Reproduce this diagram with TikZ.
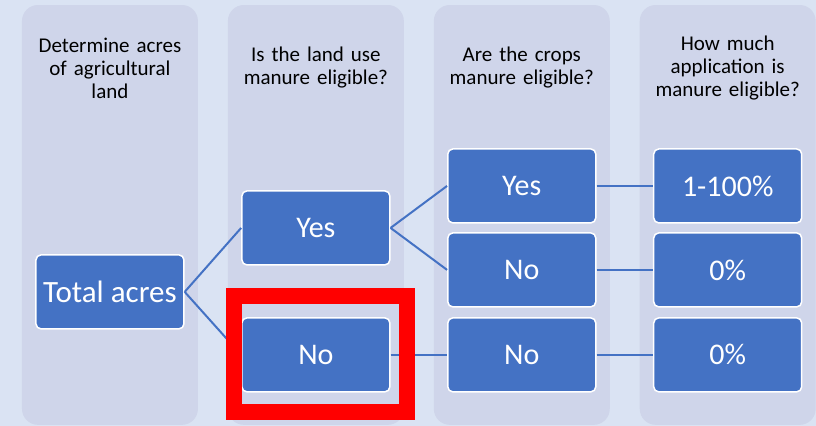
\documentclass[tikz,border=0pt]{standalone}
\usepackage{fontspec}
\setmainfont{Carlito}
\usepackage{tikz}
\usetikzlibrary{positioning}
\definecolor{pagebg}{RGB}{218,227,243}
\definecolor{colfill}{RGB}{207,213,234}
\definecolor{boxblue}{RGB}{68,114,196}

\begin{document}
\begin{tikzpicture}[
      x=1pt, y=-1pt,
      colbox/.style={rectangle, fill=colfill, rounded corners=16pt,
                     minimum width=176pt, minimum height=420pt, inner sep=0pt},
      headtext/.style={align=center, text width=170pt,
                       font=\fontsize{21}{23}\selectfont},
      choice/.style={rectangle, draw=white, line width=1.5pt, fill=boxblue,
                     rounded corners=5pt, minimum width=148pt,
                     minimum height=74pt, inner sep=2pt, text=white,
                     font=\fontsize{30}{34}\selectfont},
      link/.style={draw=boxblue, line width=2pt}
    ]
      %% Background
      \fill[pagebg] (0,0) rectangle (816,426);
      %% Column panels
      \foreach \i/\xc in {1/110, 2/316, 3/522, 4/728}{
        \node[colbox] (col\i) at (\xc, 215) {};
      }
      %% Column headings
      \node[headtext] (head1) at (110, 68) {Determine acres\\of agricultural\\land};
      \node[headtext] (head2) at (316, 68) {Is the land use\\manure eligible?};
      \node[headtext] (head3) at (522, 68) {Are the crops\\manure eligible?};
      \node[headtext] (head4) at (728, 68) {How much\\application is\\manure eligible?};
      %% Decision boxes
      \node[choice, font=\fontsize{31}{34}\selectfont] (total) at (110, 292) {Total acres};
      \node[choice] (landyes)  at (316, 228) {Yes};
      \node[choice] (landno)   at (316, 355) {No};
      \node[choice] (cropyes)  at (522, 186) {Yes};
      \node[choice] (cropno)   at (522, 270) {No};
      \node[choice] (cropno2)  at (522, 355) {No};
      \node[choice] (share1)   at (728, 186) {1-100\%};
      \node[choice] (share2)   at (728, 270) {0\%};
      \node[choice] (share3)   at (728, 355) {0\%};
      %% Connectors
      \draw[link] (total.east) -- (landyes.west);
      \draw[link] (total.east) -- (landno.west);
      \draw[link] (landyes.east) -- (cropyes.west);
      \draw[link] (landyes.east) -- (cropno.west);
      \draw[link] (landno.east) -- (cropno2.west);
      \draw[link] (cropyes.east) -- (share1.west);
      \draw[link] (cropno.east) -- (share2.west);
      \draw[link] (cropno2.east) -- (share3.west);
      %% Red highlight
      \node[rectangle, draw=red, line width=16pt, minimum width=173pt,
            minimum height=115.5pt, inner sep=0pt] (highlight) at (320.5, 354) {};
\end{tikzpicture}
\end{document}
